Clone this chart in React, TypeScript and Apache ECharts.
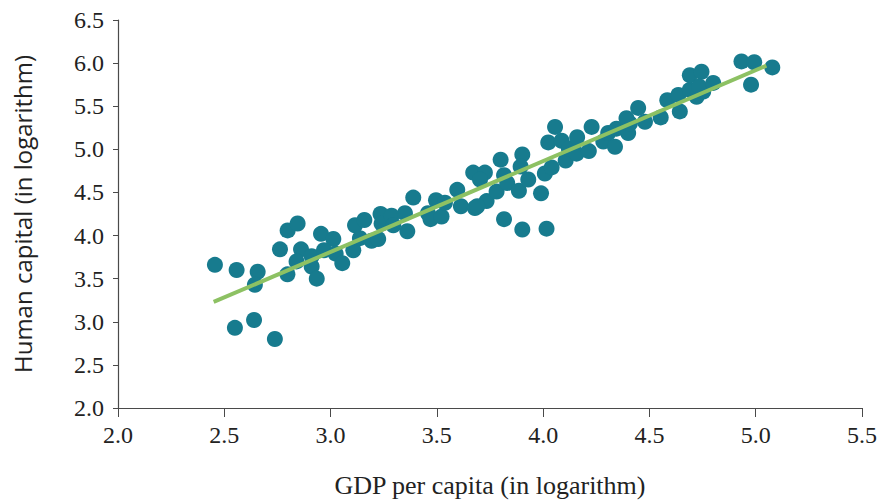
import React, { useEffect, useRef } from "react";
import * as echarts from "echarts";

const gdpLog: number[] = [
  2.456, 2.558, 2.657, 2.644, 2.55, 2.64, 2.738, 2.762, 2.798, 2.845,
  2.797, 2.861, 2.84, 2.911, 2.911, 2.935, 2.955, 3.013, 2.969, 3.024,
  3.055, 3.107, 3.115, 3.159, 3.138, 3.193, 3.224, 3.235, 3.24, 3.287,
  3.295, 3.35, 3.361, 3.389, 3.458, 3.47, 3.496, 3.522, 3.538, 3.596,
  3.613, 3.679, 3.671, 3.726, 3.703, 3.734, 3.69, 3.781, 3.80, 3.816,
  3.831, 3.816, 3.886, 3.902, 3.894, 3.93, 3.902, 3.99, 4.016, 4.008,
  4.04, 4.024, 4.056, 4.087, 4.106, 4.121, 4.16, 4.157, 4.215, 4.228,
  4.283, 4.338, 4.306, 4.345, 4.4, 4.408, 4.392, 4.447, 4.479, 4.553,
  4.584, 4.643, 4.636, 4.69, 4.69, 4.745, 4.722, 4.753, 4.734, 4.8,
  4.933, 4.993, 4.978, 5.078
];

const humanCapitalLog: number[] = [
  3.66, 3.60, 3.58, 3.43, 2.93, 3.02, 2.80, 3.84, 4.06, 4.14,
  3.55, 3.84, 3.70, 3.76, 3.64, 3.50, 4.02, 3.96, 3.83, 3.79,
  3.68, 3.83, 4.12, 4.18, 3.97, 3.94, 3.96, 4.25, 4.14, 4.23,
  4.12, 4.26, 4.05, 4.44, 4.26, 4.19, 4.41, 4.22, 4.38, 4.53,
  4.34, 4.32, 4.73, 4.73, 4.65, 4.40, 4.34, 4.51, 4.88, 4.70,
  4.61, 4.19, 4.52, 4.94, 4.80, 4.65, 4.07, 4.49, 4.08, 4.72,
  4.79, 5.08, 5.26, 5.10, 4.87, 5.01, 5.14, 4.95, 4.98, 5.26,
  5.09, 5.03, 5.19, 5.24, 5.19, 5.30, 5.36, 5.48, 5.32, 5.37,
  5.57, 5.44, 5.63, 5.69, 5.86, 5.90, 5.61, 5.67, 5.73, 5.77,
  6.02, 6.01, 5.75, 5.95
];

const fitX: number[] = [2.45, 5.05];
const fitY: number[] = [3.23, 5.97];

const xTicks = { min: 2.0, max: 5.5, interval: 0.5 };
const yTicks = { min: 2.0, max: 6.5, interval: 0.5 };

export default function App() {
  const ref = useRef<HTMLDivElement>(null);
  useEffect(() => {
    if (!ref.current) return;
    const chart = echarts.init(ref.current, null, { renderer: "svg" });
    const serif = "'Liberation Serif', 'DejaVu Serif', serif";
    const axisColor = "#4a4a4a";
    chart.setOption({
      animation: false,
      backgroundColor: "#ffffff",
      grid: {
        left: 118,
        right: 17,
        top: 20,
        bottom: 92,
        containLabel: false,
        outerBoundsMode: "none",
      },
      xAxis: {
        type: "value",
        min: xTicks.min,
        max: xTicks.max,
        interval: xTicks.interval,
        name: "GDP per capita (in logarithm)",
        nameLocation: "middle",
        nameGap: 64,
        nameTextStyle: { fontFamily: serif, fontSize: 26, color: "#222" },
        axisLine: { show: true, lineStyle: { color: axisColor, width: 1.2 } },
        axisTick: { show: true, inside: false, length: 9, lineStyle: { color: axisColor } },
        axisLabel: {
          fontFamily: serif,
          fontSize: 24,
          color: "#222",
          margin: 15,
          formatter: (v: number) => v.toFixed(1),
        },
        splitLine: { show: false },
      },
      yAxis: {
        type: "value",
        min: yTicks.min,
        max: yTicks.max,
        interval: yTicks.interval,
        name: "Human capital (in logarithm)",
        nameLocation: "middle",
        nameGap: 84,
        nameTextStyle: { fontFamily: "'Open Sans', 'Noto Sans', sans-serif", fontSize: 24, color: "#222" },
        axisLine: { show: true, lineStyle: { color: axisColor, width: 1.2 } },
        axisTick: { show: true, inside: false, length: 5, lineStyle: { color: axisColor } },
        axisLabel: {
          fontFamily: serif,
          fontSize: 24,
          color: "#222",
          margin: 14,
          formatter: (v: number) => v.toFixed(1),
        },
        splitLine: { show: false },
      },
      series: [
        {
          type: "scatter",
          symbol: "circle",
          symbolSize: 16,
          itemStyle: { color: "#177b8e", opacity: 1 },
          data: gdpLog.map((x, i) => [x, humanCapitalLog[i]]),
          z: 2,
        },
        {
          type: "line",
          symbol: "none",
          lineStyle: { color: "#8dc163", width: 4 },
          data: fitX.map((x, i) => [x, fitY[i]]),
          z: 3,
        },
      ],
    });
    return () => chart.dispose();
  }, []);
  return <div ref={ref} style={{ width: 879, height: 500, position: "fixed", left: 0, top: 0 }} />;
}
